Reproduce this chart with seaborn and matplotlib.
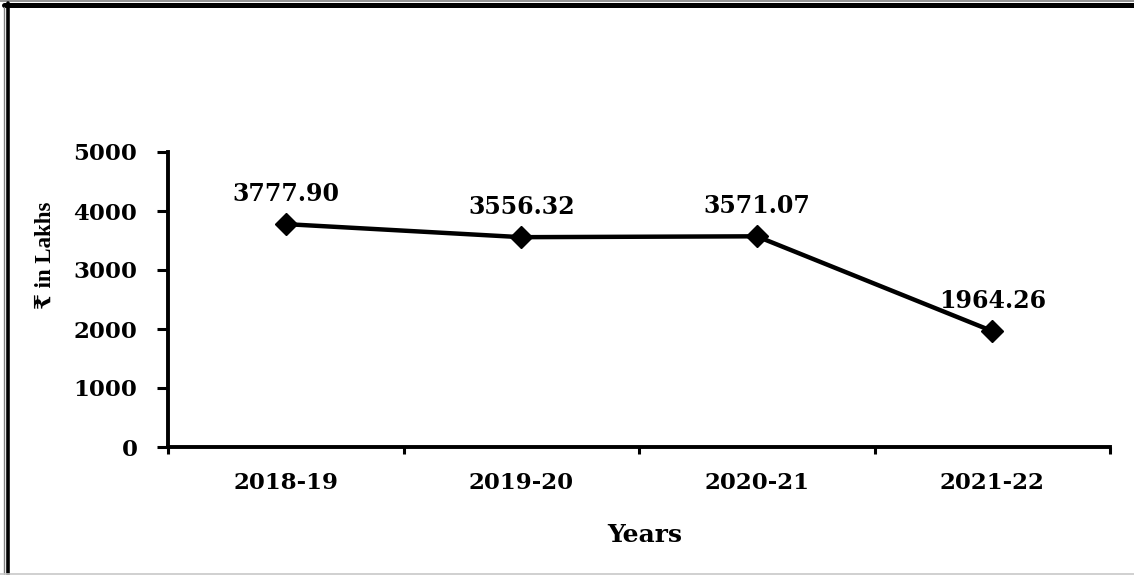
import matplotlib
matplotlib.use("Agg")
import matplotlib.pyplot as plt
import seaborn as sns
import pandas as pd
from matplotlib.lines import Line2D
from matplotlib.ticker import FixedLocator

years = ["2018-19", "2019-20", "2020-21", "2021-22"]
values = [3777.90, 3556.32, 3571.07, 1964.26]
value_labels = ["3777.90", "3556.32", "3571.07", "1964.26"]
y_ticks = [0, 1000, 2000, 3000, 4000, 5000]

sns.set_theme(style="white")
plt.rcParams['font.family'] = ['DejaVu Serif']

df = pd.DataFrame({"Years": years, "Value": values})

fig = plt.figure(figsize=(11.34, 5.75), dpi=100)
ax = fig.add_axes([168/1134, 128/575, 942/1134, 295/575])

sns.lineplot(data=df, x="Years", y="Value", ax=ax, color="black", linewidth=3.2,
             marker="D", markersize=11, markeredgecolor="black",
             markerfacecolor="black", markeredgewidth=1, sort=False)

ax.set_xlim(-0.5, 3.5)
ax.set_ylim(0, 5000)
ax.set_yticks(y_ticks)
ax.set_yticklabels([str(t) for t in y_ticks], fontsize=16.5, fontweight="bold",
                   family=["DejaVu Serif"])
ax.set_xticks(range(len(years)))
ax.set_xticklabels(years, fontsize=16.5, fontweight="bold", family=["DejaVu Serif"])
ax.xaxis.set_minor_locator(FixedLocator([-0.5, 0.5, 1.5, 2.5, 3.5]))

ax.tick_params(axis="x", which="major", length=0, pad=18, colors="black")
ax.tick_params(axis="x", which="minor", length=5, width=2.2, direction="out",
               bottom=True, color="black")
ax.tick_params(axis="y", which="major", length=8, width=2.2, direction="out",
               left=True, pad=14, colors="black")

for s in ["top", "right"]:
    ax.spines[s].set_visible(False)
for s in ["left", "bottom"]:
    ax.spines[s].set_color("black")
    ax.spines[s].set_linewidth(2.8)
ax.grid(False)

for i, (v, lab) in enumerate(zip(values, value_labels)):
    ax.annotate(lab, (i, v), xytext=(0, 22), textcoords="offset points",
                ha="center", va="center", fontsize=17, fontweight="bold",
                family=["DejaVu Serif"], color="black")

ax.set_xlabel("Years", fontsize=18, fontweight="bold", family=["DejaVu Serif"],
              va="center", color="black")
ax.xaxis.set_label_coords(0.5 + 6/942, (447 - 535) / 295)
ax.set_ylabel("₹ in Lakhs", fontsize=16.5, fontweight="bold",
              family=["Liberation Serif", "DejaVu Serif"], va="center", color="black")
ax.yaxis.set_label_coords((45 - 168) / 942, (447 - 255) / 295)

# outer frame
W, H = 1134, 575
def fx(x): return x / W
def fy(y): return 1 - y / H
fig.add_artist(Line2D([fx(0), fx(W)], [fy(0.8), fy(0.8)], color="#808080", lw=1.2))
fig.add_artist(Line2D([fx(4), fx(W)], [fy(5), fy(5)], color="black", lw=3.6))
fig.add_artist(Line2D([fx(4.3), fx(4.3)], [fy(7), fy(H)], color="#808080", lw=1.0))
fig.add_artist(Line2D([fx(7.5), fx(7.5)], [fy(3), fy(H)], color="black", lw=2.6))
fig.add_artist(Line2D([fx(0), fx(W)], [fy(574), fy(574)], color="#c8c8c8", lw=1.2))

fig.savefig("out.png", dpi=100)
